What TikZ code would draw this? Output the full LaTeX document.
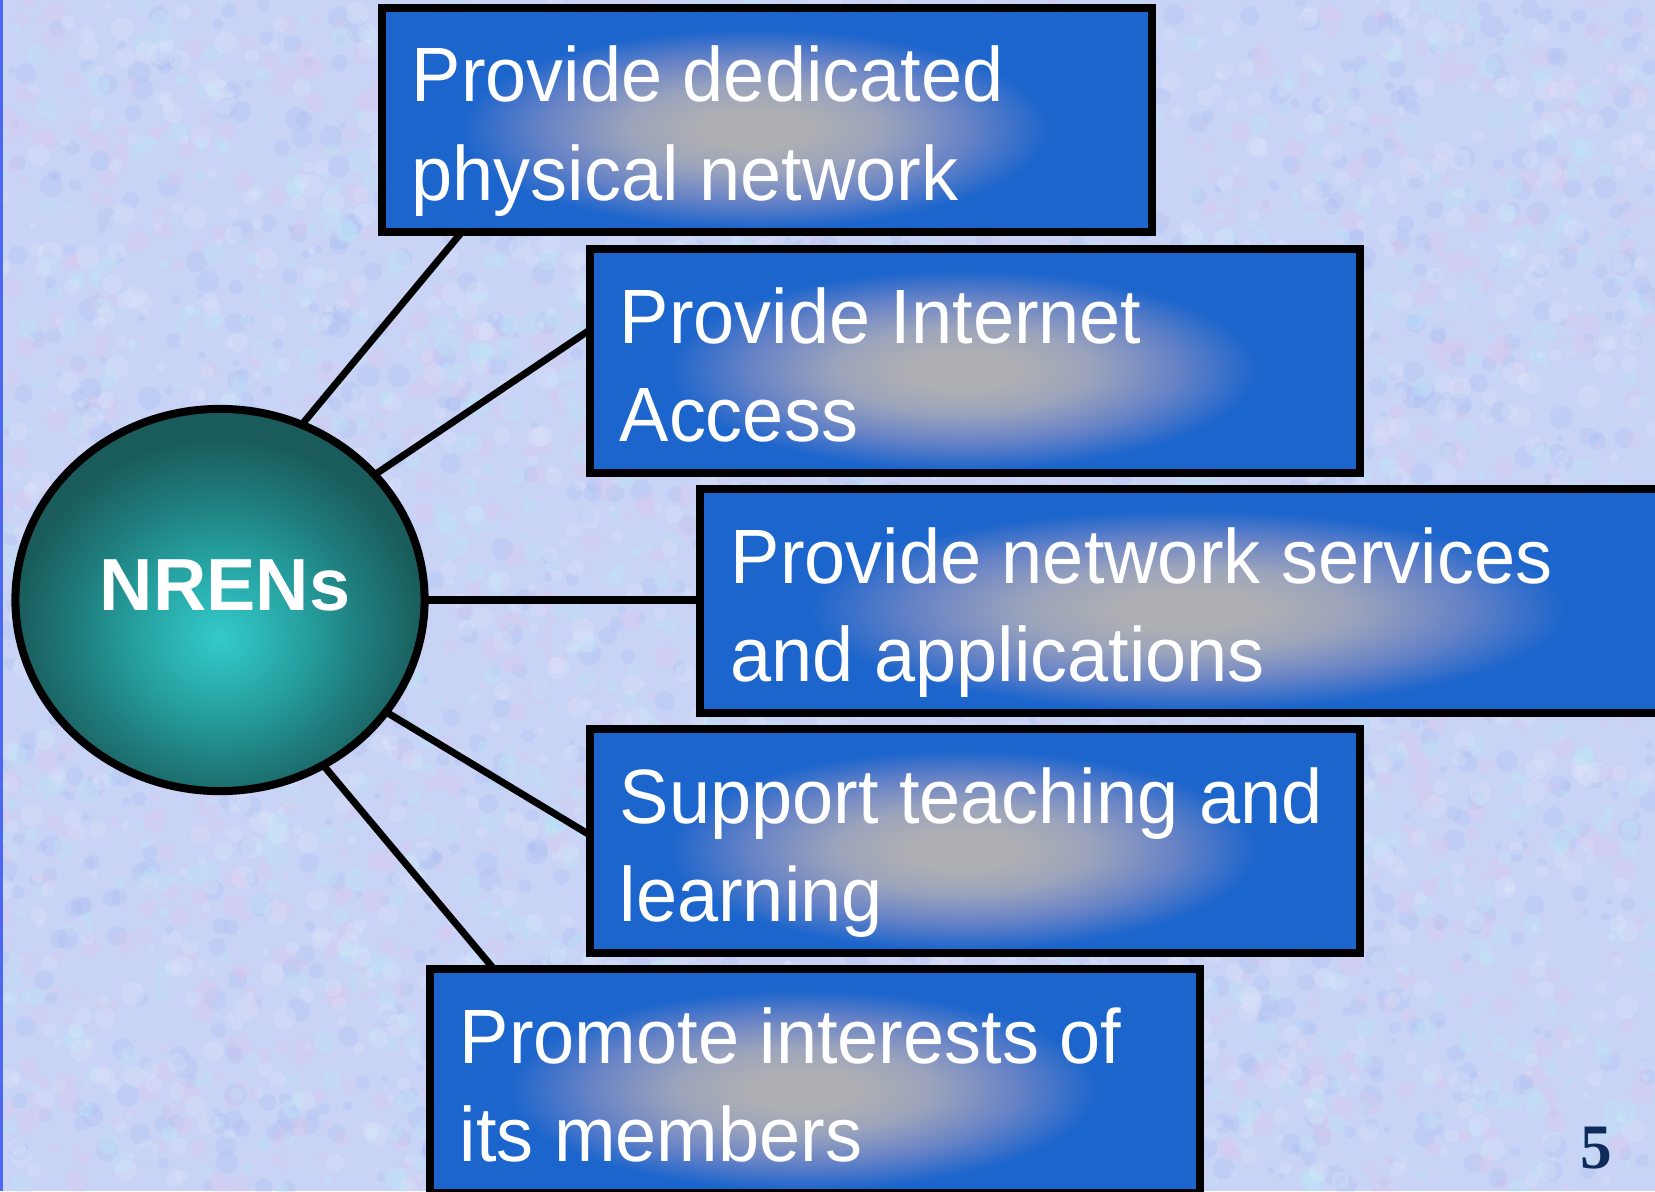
\documentclass[tikz,border=0pt]{standalone}
\usepackage{fontspec}
\setmainfont{Liberation Sans}
\newfontfamily\boxfont[FakeStretch=0.96]{Liberation Sans}
\newfontfamily\numfont{Liberation Serif}
\usetikzlibrary{shapes.geometric,calc}
\definecolor{bgc}{HTML}{C8D3F6}
\definecolor{bgpink}{HTML}{E2C4EC}
\definecolor{bgcyan}{HTML}{BCEEF8}
\definecolor{bgblue}{HTML}{A8BCF2}
\definecolor{bgwhite}{HTML}{E4EAFC}
\definecolor{boxblue}{HTML}{1C65CC}
\definecolor{boxgray}{HTML}{ADAFB3}
\definecolor{boxgb}{HTML}{9CA4BC}
\definecolor{boxmid}{HTML}{6682C6}
\definecolor{tealhi}{HTML}{34CACA}
\definecolor{tealhi2}{HTML}{2DB6B6}
\definecolor{tealmid}{HTML}{249898}
\definecolor{tealmd2}{HTML}{1F7A7A}
\definecolor{tealdk}{HTML}{1A5C5C}
\definecolor{navy}{HTML}{0E2B5C}
\definecolor{edgeblue}{HTML}{4A68F0}
\pgfdeclareradialshading{boxshade}{\pgfpoint{0bp}{0bp}}{color(0bp)=(boxgray); color(3.5bp)=(boxgray); color(8bp)=(boxgb); color(13.5bp)=(boxmid); color(18.5bp)=(boxblue); color(100bp)=(boxblue)}
\pgfdeclareradialshading{nrenshade}{\pgfpoint{0bp}{-5bp}}{color(0bp)=(tealhi); color(5bp)=(tealhi2); color(12bp)=(tealmid); color(18bp)=(tealmd2); color(25bp)=(tealdk); color(100bp)=(tealdk)}
\begin{document}
\begin{tikzpicture}[x=0.01cm,y=-0.01cm,
  goal/.style={draw=black,line width=2.28pt,fill=boxblue,minimum width=7.7cm,minimum height=2.24cm,inner sep=0pt,outer sep=0pt,
    path picture={\shade[shading=boxshade] ([xshift=-7pt,yshift=-9pt]path picture bounding box.south west) rectangle ([xshift=-7pt,yshift=4pt]path picture bounding box.north east);}},
  goaltext/.style={anchor=base west,text=white,font=\boxfont\fontsize{21.9pt}{27.9pt}\selectfont,inner sep=0pt},
  link/.style={line width=2pt,draw=black}]
\useasboundingbox (0,0) rectangle (1655,1191);
\clip (0,0) rectangle (1655,1191);
\fill[bgc] (0,0) rectangle (1655,1191);
\pgfmathsetseed{12}
\foreach \col in {bgblue,bgpink,bgcyan,bgwhite}{
  \foreach \i in {1,...,1400}{
    \pgfmathsetmacro\xx{rnd*1655}
    \pgfmathsetmacro\yy{rnd*1191}
    \pgfmathsetmacro\rr{3+rnd*9}
    \fill[\col,fill opacity=0.25] (\xx,\yy) circle[radius=\rr];
  }
}
\fill[edgeblue] (0,0) rectangle (3,1191);

\node[goal] (b1) at (767,120) {};
\node[goal] (b2) at (975,361) {};
\node[goal,minimum width=9.99cm] (b3) at (1200,601) {};
\node[goal] (b4) at (975,841) {};
\node[goal] (b5) at (815,1081) {};

\node[ellipse,draw=black,line width=2.28pt,shading=nrenshade,minimum width=4.09cm,minimum height=3.82cm,inner sep=0pt,outer sep=0pt] (n) at (220,600) {};
\node[anchor=base,text=white,inner sep=0pt,font=\bfseries\fontsize{21pt}{25pt}\selectfont] (lbl) at (225,610) {NRENs};

\node[goaltext] (t1) at (411,102) {\vtop{\hbox{Provide dedicated}\hbox{physical network}}};
\node[goaltext] (t2) at (619,343) {\vtop{\hbox{Provide Internet}\hbox{Access}}};
\node[goaltext] (t3) at (730,583) {\vtop{\hbox{Provide network services}\hbox{and applications}}};
\node[goaltext] (t4) at (619,823) {\vtop{\hbox{Support teaching and}\hbox{learning}}};
\node[goaltext] (t5) at (459,1063) {\vtop{\hbox{Promote interests of}\hbox{its members}}};

\draw[link] (n.65) -- ($(b1.south west)+(80,0)$);
\draw[link] (n.39) -- ($(b2.north west)+(0,81)$);
\draw[link] (n.east) -- (n.east -| b3.west);
\draw[link] (n.-34) -- ($(b4.north west)+(0,106)$);
\draw[link] (n.-58) -- ($(b5.north west)+(64,0)$);

\node[anchor=base,text=navy,inner sep=0pt,font=\numfont\bfseries\fontsize{18pt}{20pt}\selectfont] (pg) at (1596,1168) {5};
\end{tikzpicture}
\end{document}
